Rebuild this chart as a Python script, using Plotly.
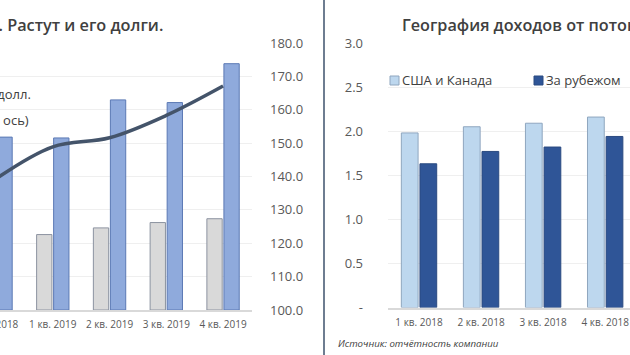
import plotly.graph_objects as go

W, H = 630, 355

# ---- Left panel data ----
cats_left = ["4 кв. 2018", "1 кв. 2019", "2 кв. 2019", "3 кв. 2019", "4 кв. 2019"]
revenue = [4.19, 4.52, 4.92, 5.24, 5.47]          # gray bars, млрд долл.
debt = [10.36, 10.31, 12.59, 12.43, 14.76]         # blue bars, млрд долл.
subscribers = [139.3, 148.9, 151.6, 158.3, 167.1]  # line, млн (правая ось)
right_ticks_left = [100, 110, 120, 130, 140, 150, 160, 170, 180]

# ---- Right panel data ----
cats_right = ["1 кв. 2018", "2 кв. 2018", "3 кв. 2018", "4 кв. 2018"]
us_canada = [1.98, 2.05, 2.09, 2.16]
abroad = [1.63, 1.77, 1.82, 1.94]
yticks_right = [0, 0.5, 1.0, 1.5, 2.0, 2.5, 3.0]
yticktext_right = ["-", "0.5", "1.0", "1.5", "2.0", "2.5", "3.0"]

FONT = "Open Sans"
TXT = "#404040"
TICK = "#595959"


def px(x):
    return x / W


def py(y):
    return 1 - y / H


fig = go.Figure()

fig.add_trace(go.Bar(x=cats_left, y=revenue, name="Выручка, млрд долл.",
                     marker=dict(color="#d9d9d9", line=dict(color="#8c93a0", width=1)),
                     xaxis="x", yaxis="y"))
fig.add_trace(go.Bar(x=cats_left, y=debt, name="Долг, млрд долл.",
                     marker=dict(color="#8faadc", line=dict(color="#5b79b4", width=1)),
                     xaxis="x", yaxis="y"))
fig.add_trace(go.Scatter(x=cats_left, y=subscribers, name="Подписчики, млн (правая ось)",
                         mode="lines", line=dict(color="#44546a", width=3.5, shape="spline", smoothing=1.0),
                         xaxis="x", yaxis="y2"))

fig.add_trace(go.Bar(x=cats_right, y=us_canada, name="США и Канада",
                     marker=dict(color="#bdd7ee", line=dict(color="#8fa6bf", width=1)),
                     xaxis="x2", yaxis="y3"))
fig.add_trace(go.Bar(x=cats_right, y=abroad, name="За рубежом",
                     marker=dict(color="#2f5597", line=dict(color="#2a4a80", width=1)),
                     xaxis="x2", yaxis="y3"))

left_dom = [py(310), py(43)]
right_dom = [py(307.5), py(43)]

fig.update_layout(
    width=W, height=H, autosize=False,
    margin=dict(l=0, r=0, t=0, b=0, pad=0, autoexpand=False),
    paper_bgcolor="white", plot_bgcolor="white",
    showlegend=False,
    barmode="group", bargap=0.4, bargroupgap=0.1,
    font=dict(family=FONT, color=TXT),
    xaxis=dict(domain=[0, px(252)], range=[0.07, 4.51], type="category",
               showline=True, linecolor="#d9d9d9", linewidth=2,
               showgrid=False, ticks="", tickfont=dict(size=10, color=TICK),
               ticklabelstandoff=4, anchor="y", automargin=False),
    yaxis=dict(domain=left_dom, range=[0, 16], showticklabels=False,
               showgrid=False, zeroline=False, anchor="x", automargin=False),
    yaxis2=dict(domain=left_dom, range=[100, 180], overlaying="y", side="right",
                anchor="x", tickvals=right_ticks_left, tickformat=".1f",
                showgrid=True, gridcolor="#efefef", gridwidth=1, zeroline=False,
                ticks="", tickfont=dict(size=13, color=TICK), ticklabelstandoff=17,
                automargin=False),
    xaxis2=dict(domain=[px(388), 1], range=[-0.5, 3.40], type="category",
                showline=True, linecolor="#d9d9d9", linewidth=2,
                showgrid=False, ticks="", tickfont=dict(size=10, color=TICK),
                ticklabelstandoff=4, anchor="y3", automargin=False),
    yaxis3=dict(domain=right_dom, range=[0, 3], anchor="x2",
                tickvals=yticks_right, ticktext=yticktext_right,
                showgrid=True, gridcolor="#efefef", gridwidth=1, zeroline=False,
                ticks="", tickfont=dict(size=13, color=TICK), ticklabelstandoff=24,
                automargin=False),
)

shapes = [
    dict(type="line", xref="paper", yref="paper", x0=px(324), x1=px(324), y0=0, y1=1,
         line=dict(color="#6e7d91", width=2)),
    dict(type="rect", xref="paper", yref="paper", x0=px(390), x1=px(399), y0=py(85), y1=py(76),
         fillcolor="#bdd7ee", line=dict(color="#8fa6bf", width=1)),
    dict(type="rect", xref="paper", yref="paper", x0=px(534), x1=px(543), y0=py(85), y1=py(76),
         fillcolor="#2f5597", line=dict(color="#2a4a80", width=1)),
]
fig.update_layout(shapes=shapes)

ann = [
    dict(text="Netflix растёт. Растут и его долги.", x=px(165), y=py(25), xanchor="right",
         yanchor="middle", font=dict(size=16.3, color=TXT, weight=600)),
    dict(text="География доходов от потокового сервиса, млрд долл.", x=px(400), y=py(25),
         xanchor="left", yanchor="middle", font=dict(size=16.2, color=TXT, weight=600)),
    dict(text="Долг, млрд долл.", x=px(33), y=py(94), xanchor="right", yanchor="middle",
         font=dict(size=13, color=TXT)),
    dict(text="Подписчики, млн (правая ось)", x=px(31), y=py(120), xanchor="right", yanchor="middle",
         font=dict(size=13, color=TXT)),
    dict(text="США и Канада", x=px(400), y=py(80), xanchor="left", yanchor="middle",
         font=dict(size=13, color=TXT)),
    dict(text="За рубежом", x=px(544), y=py(80), xanchor="left", yanchor="middle",
         font=dict(size=13, color=TXT)),
    dict(text="<i>Источник: отчётность компании</i>", x=px(336), y=py(343), xanchor="left",
         yanchor="middle", font=dict(size=9.7, color=TXT)),
    # first category label of the left panel, whose tick falls just outside the visible range
    dict(text=cats_left[0], x=px(-5), y=py(324), xanchor="center", yanchor="middle",
         font=dict(size=10, color=TICK)),
]
for a in ann:
    a.update(xref="paper", yref="paper", showarrow=False)
fig.update_layout(annotations=ann)

fig.write_html(
    "out.html",
    config={"displayModeBar": False},
    post_script="document.body.style.margin='0';document.body.style.padding='0';"
                "document.body.style.overflow='hidden';",
)
